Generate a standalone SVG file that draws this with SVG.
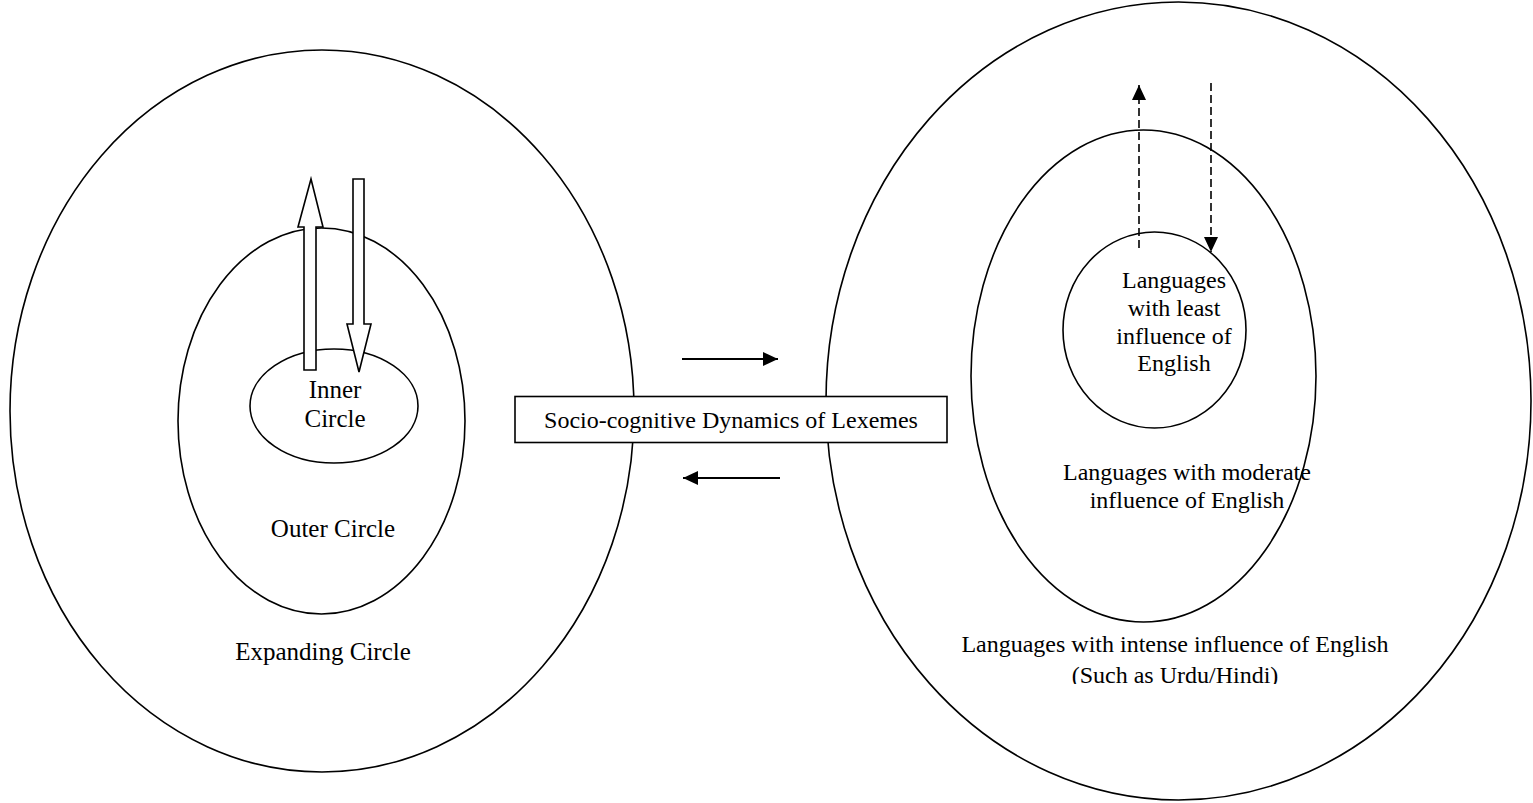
<svg xmlns="http://www.w3.org/2000/svg" width="1533" height="803" viewBox="0 0 1533 803">
<defs>
<style>
.ln{fill:none;stroke:#000;stroke-width:1.6}
.box{fill:#fff;stroke:#000;stroke-width:1.6}
.hol{fill:#fff;stroke:#000;stroke-width:1.6;stroke-linejoin:miter}
.dash{fill:none;stroke:#000;stroke-width:1.6;stroke-dasharray:8 4}
.arr{fill:none;stroke:#000;stroke-width:2}
.t{font-family:"Liberation Serif","Times New Roman",serif;fill:#000;text-anchor:middle}
</style>
<marker id="ah" viewBox="0 0 15 14" refX="15" refY="7" markerWidth="15" markerHeight="14" markerUnits="userSpaceOnUse" orient="auto">
<path d="M0,0 L15,7 L0,14 z" fill="#000"/>
</marker>
<clipPath id="clipB"><rect x="900" y="600" width="600" height="84"/></clipPath>
</defs>
<rect width="1533" height="803" fill="#fff"/>

<g id="expanding-circle">
<ellipse class="ln" cx="322" cy="411" rx="312" ry="361"/>
<text class="t" x="323" y="660" font-size="25">Expanding Circle</text>
</g>
<g id="outer-circle">
<ellipse class="ln" cx="321.5" cy="421" rx="143.5" ry="193"/>
<text class="t" x="333" y="537" font-size="25">Outer Circle</text>
</g>
<g id="inner-circle">
<ellipse class="ln" cx="334" cy="406" rx="84" ry="57"/>
</g>

<g id="intense-circle">
<ellipse class="ln" cx="1178.5" cy="401" rx="352.5" ry="399"/>
<g clip-path="url(#clipB)">
<text class="t" x="1175" y="652" font-size="24">Languages with intense influence of English</text>
<text class="t" x="1175" y="683" font-size="24">(Such as Urdu/Hindi)</text>
</g>
</g>
<g id="moderate-circle">
<ellipse class="ln" cx="1143.5" cy="376" rx="172.5" ry="246"/>
<text class="t" x="1187" y="480" font-size="24">Languages with moderate</text>
<text class="t" x="1187" y="508" font-size="24">influence of English</text>
</g>
<g id="least-circle">
<ellipse class="ln" cx="1154.5" cy="330" rx="91.5" ry="98"/>
<text class="t" x="1174" y="288" font-size="24">Languages</text>
<text class="t" x="1174" y="316" font-size="24">with least</text>
<text class="t" x="1174" y="344" font-size="24">influence of</text>
<text class="t" x="1174" y="371" font-size="24">English</text>
</g>

<g id="connectors">
<path class="hol" d="M304,370 L304,227 L298,227 L311,179 L323,227 L316,227 L316,370 Z"/>
<path class="hol" d="M353,179 L364,179 L364,324 L371,324 L359,372 L347,324 L353,324 Z"/>
<line class="dash" x1="1139" y1="248" x2="1139" y2="85" marker-end="url(#ah)"/>
<line class="dash" x1="1211" y1="83" x2="1211" y2="252" marker-end="url(#ah)"/>
<line class="arr" x1="682" y1="359" x2="778" y2="359" marker-end="url(#ah)"/>
<line class="arr" x1="780" y1="478" x2="683" y2="478" marker-end="url(#ah)"/>
</g>

<g id="inner-label">
<text class="t" x="335" y="398" font-size="25">Inner</text>
<text class="t" x="335" y="427" font-size="25">Circle</text>
</g>

<g id="socio-box">
<rect class="box" x="515" y="396.5" width="432" height="46"/>
<text class="t" x="731" y="428" font-size="24">Socio-cognitive Dynamics of Lexemes</text>
</g>
</svg>
